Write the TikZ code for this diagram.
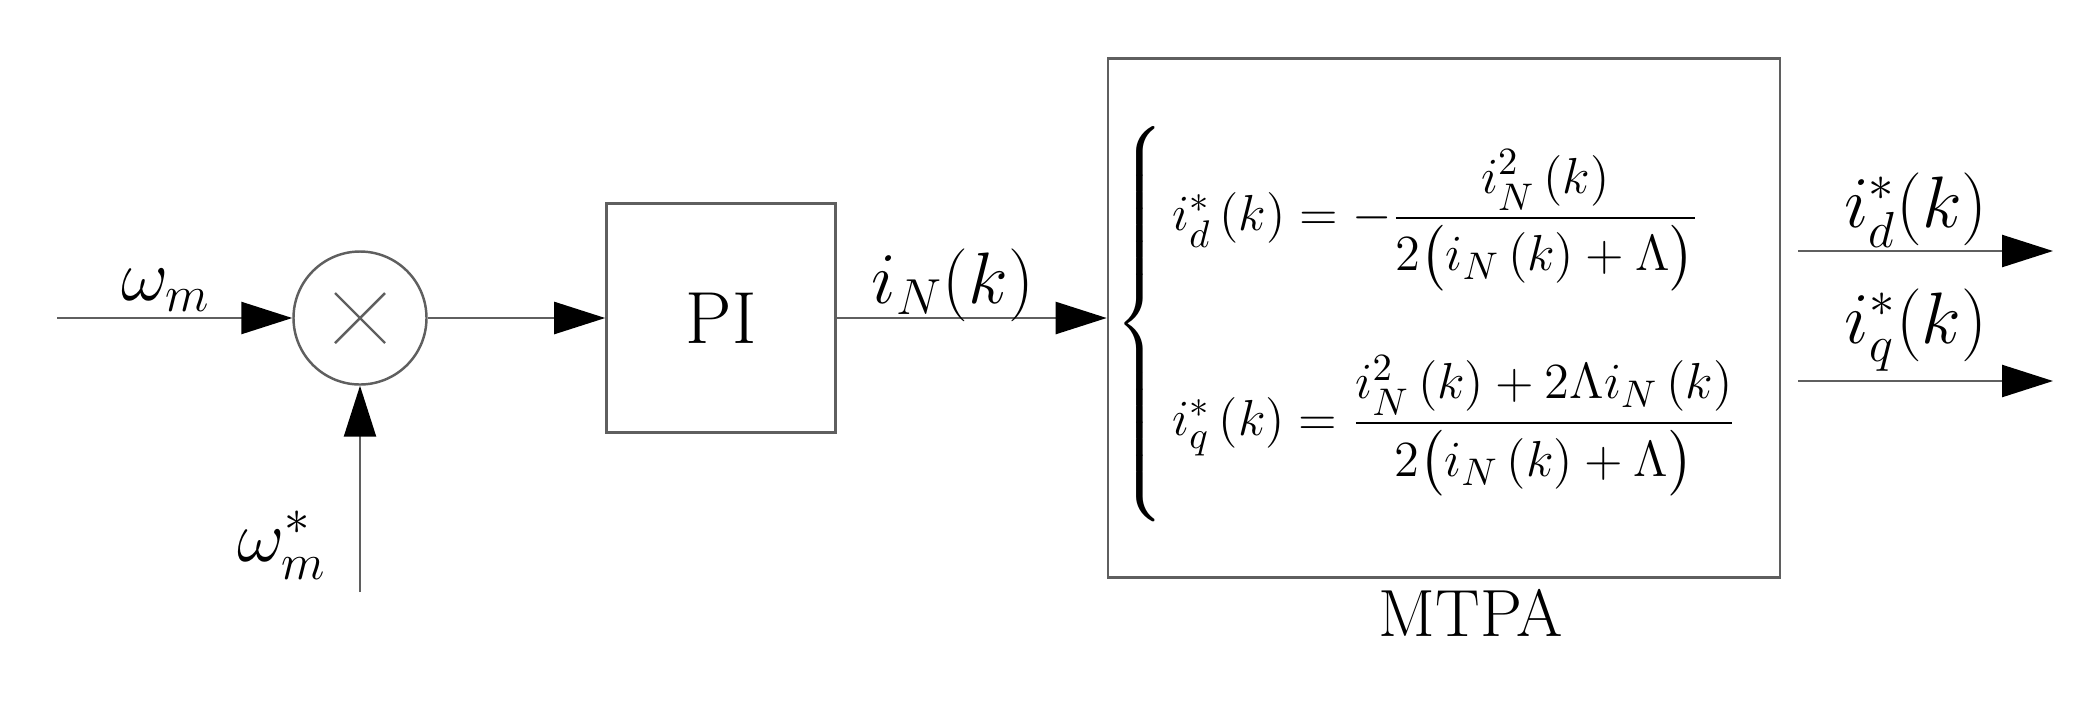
\documentclass[tikz,border=0pt]{standalone}
\usepackage{amsmath}
\usepackage{amssymb}
\usepackage{xcolor}
\usepackage{tikz}
\usetikzlibrary{arrows.meta,positioning}

\definecolor{wire}{RGB}{95,95,95}

\begin{document}
\begin{tikzpicture}[every node/.style={inner sep=0pt},
	sig/.style={draw=wire, line width=0.7pt, -{Triangle[length=5.1mm,width=3.2mm,color=black]}},
	block/.style={draw=wire, line width=0.7pt, rectangle},
	lbl/.style={font=\fontsize{20}{24}\selectfont}]
	\useasboundingbox (0,0) rectangle (20.9,7);
	% multiplier
	\node[circle, draw=wire, line width=0.7pt, minimum size=1.33cm] (mul) at (3.6,3.82) {};
	\draw[wire, line width=0.7pt] ([shift={(-0.25,-0.25)}]mul.center) -- ([shift={(0.25,0.25)}]mul.center);
	\draw[wire, line width=0.7pt] ([shift={(-0.25,0.25)}]mul.center) -- ([shift={(0.25,-0.25)}]mul.center);
	% blocks
	\node[block, minimum width=2.29cm, minimum height=2.29cm, right=1.775cm of mul, font=\fontsize{21}{25}\selectfont] (pi) {PI};
	\node[block, minimum width=6.72cm, minimum height=5.19cm, right=2.7cm of pi] (mtpa) {};
	\node[font=\fontsize{15.6}{19}\selectfont, anchor=west] (law) at ([xshift=0.08cm,yshift=-0.06cm]mtpa.west) {$\left\{\begin{array}{@{\,}l@{}}
		\rule{0pt}{1.11cm}i_d^{*}\left(k\right)=-\dfrac{i_N^{2}\left(k\right)}{2\bigl(i_N\left(k\right)+\Lambda\bigr)}\\[10.5mm]
		i_q^{*}\left(k\right)=\dfrac{i_N^{2}\left(k\right)+2\Lambda i_N\left(k\right)}{2\bigl(i_N\left(k\right)+\Lambda\bigr)}\rule[-0.93cm]{0pt}{0.93cm}
	\end{array}\right.$};
	\node[font=\fontsize{19}{23}\selectfont] (mtpalbl) at ([xshift=0.27cm,yshift=-0.34cm]mtpa.south) {MTPA};
	% inputs
	\coordinate (win) at (0.57,3.82);
	\coordinate (wref) at (3.6,1.08);
	\node[lbl] (wlbl) at (1.66,4.10) {$\omega_m$};
	\node[lbl] (wreflbl) at (2.82,1.55) {$\omega_m^{*}$};
	\draw[sig] (win) -- (mul);
	\draw[sig] (wref) -- (mul);
	\draw[sig] (mul) -- (pi);
	\draw[sig] (pi) -- (mtpa);
	\node[lbl] (inlbl) at (9.53,4.15) {$i_N(k)$};
	% outputs
	\coordinate (od) at (17.98,4.49);
	\coordinate (odend) at (20.53,4.49);
	\coordinate (oq) at (17.98,3.19);
	\coordinate (oqend) at (20.53,3.19);
	\draw[sig] (od) -- (odend);
	\draw[sig] (oq) -- (oqend);
	\node[lbl] (idlbl) at (19.16,4.90) {$i_d^{*}(k)$};
	\node[lbl] (iqlbl) at (19.16,3.70) {$i_q^{*}(k)$};
\end{tikzpicture}
\end{document}
